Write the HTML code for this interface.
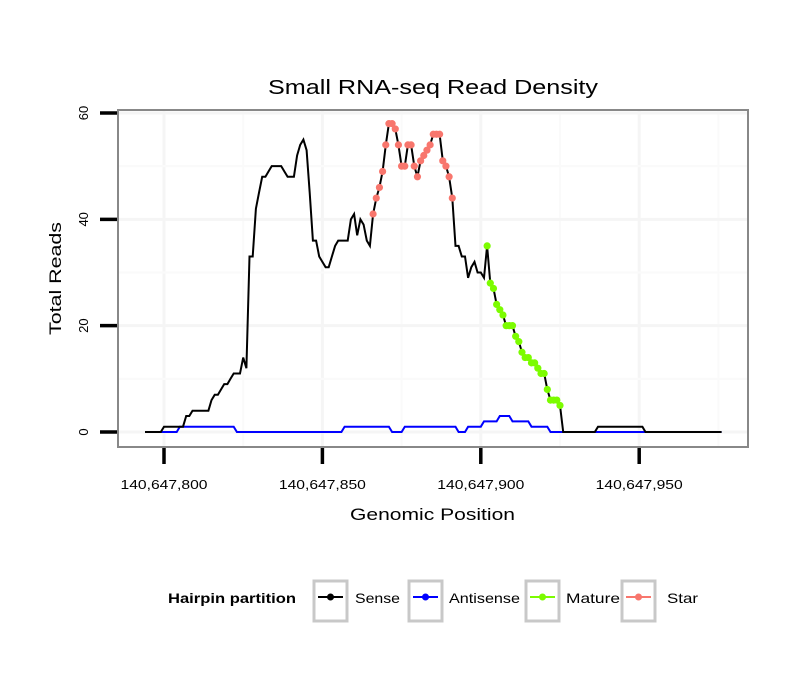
<!DOCTYPE html>
<html><head><meta charset="utf-8"><style>
body{margin:0;background:#fff;}
svg{display:block;font-family:"Liberation Sans",Arial,sans-serif;}
</style></head><body>
<svg id="chart" width="810" height="690" viewBox="0 0 810 690">
<text x="268" y="94" font-size="20" textLength="330" lengthAdjust="spacingAndGlyphs">Small RNA-seq Read Density</text>
<rect x="118" y="110" width="630" height="337" fill="#fff" stroke="#888" stroke-width="2"/>
<g id="grid"></g>
<g id="series"></g>
<g id="axes"></g>
<text x="350" y="520" font-size="17" textLength="165" lengthAdjust="spacingAndGlyphs">Genomic Position</text>
<text transform="translate(61,335) rotate(-90)" font-size="17" textLength="113" lengthAdjust="spacingAndGlyphs">Total Reads</text>
<g>
<text x="168" y="603" font-size="14" font-weight="bold" textLength="128" lengthAdjust="spacingAndGlyphs">Hairpin partition</text>
<g><rect x="314" y="581" width="33" height="40" fill="#fff" stroke="#c8c8c8" stroke-width="3"/><line x1="318" y1="597" x2="343" y2="597" stroke="#000" stroke-width="2"/><circle cx="330.5" cy="597" r="3.5" fill="#000"/><text x="355" y="603" font-size="14" textLength="45" lengthAdjust="spacingAndGlyphs">Sense</text></g>
<g><rect x="409" y="581" width="33" height="40" fill="#fff" stroke="#c8c8c8" stroke-width="3"/><line x1="413" y1="597" x2="438" y2="597" stroke="#00f" stroke-width="2"/><circle cx="425.5" cy="597" r="3.5" fill="#00f"/><text x="449" y="603" font-size="14" textLength="71" lengthAdjust="spacingAndGlyphs">Antisense</text></g>
<g><rect x="526" y="581" width="33" height="40" fill="#fff" stroke="#c8c8c8" stroke-width="3"/><line x1="530" y1="597" x2="555" y2="597" stroke="#7cfc00" stroke-width="2"/><circle cx="542.5" cy="597" r="3.5" fill="#7cfc00"/><text x="566" y="603" font-size="14" textLength="54" lengthAdjust="spacingAndGlyphs">Mature</text></g>
<g><rect x="622" y="581" width="33" height="40" fill="#fff" stroke="#c8c8c8" stroke-width="3"/><line x1="626" y1="597" x2="651" y2="597" stroke="#f8766d" stroke-width="2"/><circle cx="638.5" cy="597" r="3.5" fill="#f8766d"/><text x="667" y="603" font-size="14" textLength="31" lengthAdjust="spacingAndGlyphs">Star</text></g>
</g>
</svg>
<script>
const startPos = 140647794;
const senseValues = [0,0,0,0,0,0, 1,1,1,1,1,1,1, 3,3,4,4,4,4,4,4,
6,7,7,8,9,9,10,11,11,11,14,12,33,33,42,45,48,48,49,50,50,50,50,49,48,48,48,52,54,55,53,45,36,36,33,32,31,31,33,35,36,36,36,36,40,41,37,40,39,36,35,
41,44,46,49,54,58,58,57,54,50,50,54,54,50,48,51,52,53,54,56,56,56,51,50,48,44,
35,35,33,33,29,31,32,30,30,29,
35,28,27,24,23,22,20,20,20,18,17,15,14,14,13,13,12,11,11,8,6,6,6,5,
0,0,0,0,0,0,0,0,0,0,0,
1,1,1,1,1,1,1,1,1,1,1,1,1,1,1,
0,0,0,0,0,0,0,0,0,0,0,0,0,0,0,0,0,0,0,0,0,0,0,0,0];
const antisenseValues = [0,0,0,0,0,0,0,0,0,0,0,
1,1,1,1,1,1,1,1,1,1,1,1,1,1,1,1,1,1,
0,0,0,0,0,0,0,0,0,0,0,0,0,0,0,0,0,0,0,0,0,0,0,0,0,0,0,0,0,0,0,0,0,0,
1,1,1,1,1,1,1,1,1,1,1,1,1,1,1,
0,0,0,0,
1,1,1,1,1,1,1,1,1,1,1,1,1,1,1,1,1,
0,0,0,
1,1,1,1,1,
2,2,2,2,2,
3,3,3,3,
2,2,2,2,2,2,
1,1,1,1,1,1,
0,0,0,0,0,0,0,0,0,0,0,0,0,0,0,0,0,0,0,0,0,0,0,0,0,0,0,0,0,0,0,0,0,0,0,0,0,0,0,0,0,0,0,0,0,0,0,0,0,0,0,0,0,0,0];
const starRange = [140647866, 140647891];
const matureRange = [140647902, 140647925];
const xTicks = [140647800, 140647850, 140647900, 140647950];
const xTickLabels = ["140,647,800","140,647,850","140,647,900","140,647,950"];
const yTicks = [0, 20, 40, 60];

const NS="http://www.w3.org/2000/svg";
function xs(p){return 164 + (p-140647800)*3.168;}
function ys(v){return 432 - v*5.317;}
function mk(tag,attrs,parent){const e=document.createElementNS(NS,tag);for(const k in attrs)e.setAttribute(k,attrs[k]);parent.appendChild(e);return e;}
const grid=document.getElementById('grid'), series=document.getElementById('series'), axes=document.getElementById('axes');
for(let i=0;i<xTicks.length;i++){
  let l=mk('line',{x1:xs(xTicks[i]),x2:xs(xTicks[i]),y1:111,y2:446,stroke:'#f5f5f5','stroke-width':3},grid);
  
  
  const mid=xTicks[i]+25; if(xs(mid)<747){let m=mk('line',{x1:xs(mid),x2:xs(mid),y1:111,y2:446,stroke:'#fafafa','stroke-width':2},grid);
  
  }
}
for(let i=0;i<yTicks.length;i++){
  let l=mk('line',{x1:119,x2:747,y1:ys(yTicks[i]),y2:ys(yTicks[i]),stroke:'#f5f5f5','stroke-width':3},grid);
  
  
  if(i<yTicks.length-1){let m=mk('line',{x1:119,x2:747,y1:ys(yTicks[i]+10),y2:ys(yTicks[i]+10),stroke:'#fafafa','stroke-width':2},grid);
  
  }
}
function pathOf(vals){return vals.map((v,i)=>(i?'L':'M')+xs(startPos+i).toFixed(1)+','+ys(v).toFixed(1)).join('');}
const ap=mk('path',{d:pathOf(antisenseValues),fill:'none',stroke:'#00f','stroke-width':2},series);


const sp=mk('path',{d:pathOf(senseValues),fill:'none',stroke:'#000','stroke-width':2},series);


function pts(range,color,name){
  for(let p=range[0];p<=range[1];p++){
    const v=senseValues[p-startPos];
    const c=mk('circle',{cx:xs(p),cy:ys(v),r:3.6,fill:color},series);
    
    
  }
}
pts(starRange,'#f8766d','star-point');
pts(matureRange,'#7cfc00','mature-point');
for(let i=0;i<xTicks.length;i++){
  const t=mk('line',{x1:xs(xTicks[i]),x2:xs(xTicks[i]),y1:448,y2:464,stroke:'#000','stroke-width':3.5},axes);
  
  
  const tx=mk('text',{x:xs(xTicks[i])-43.5,y:489,'font-size':13,textLength:87,lengthAdjust:'spacingAndGlyphs'},axes);
  tx.textContent=xTickLabels[i];
  
  
}
for(let i=0;i<yTicks.length;i++){
  const t=mk('line',{x1:100,x2:117,y1:ys(yTicks[i]),y2:ys(yTicks[i]),stroke:'#000','stroke-width':3.5},axes);
  
  
  const tx=mk('text',{transform:'translate(88,'+ys(yTicks[i])+') rotate(-90)','font-size':13,'text-anchor':'middle'},axes);
  tx.textContent=String(yTicks[i]);
  
  
}
</script>
</body></html>
